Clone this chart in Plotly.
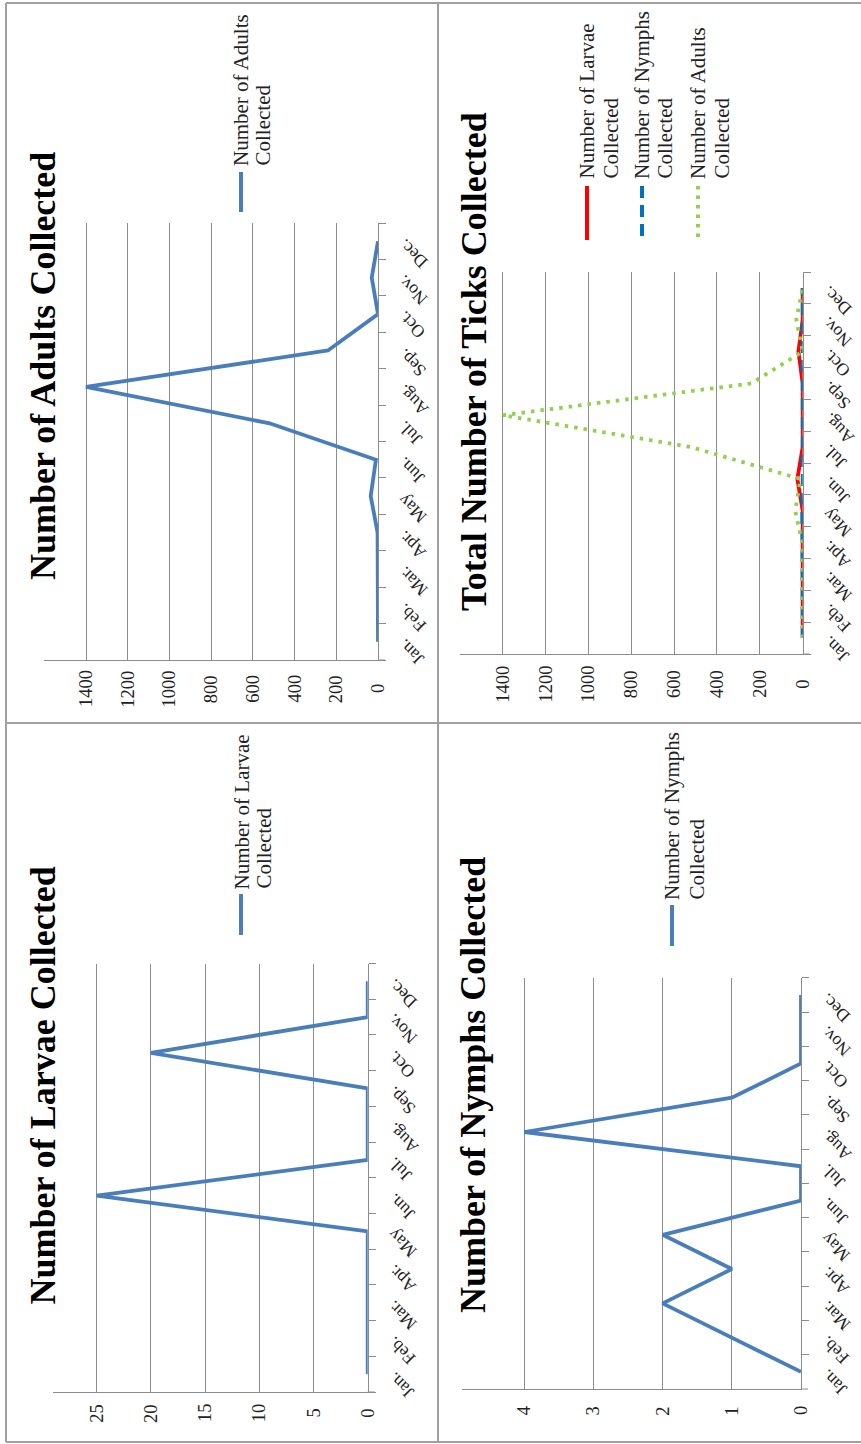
import plotly.graph_objects as go

W, H = 861, 1444

months = ["Jan.", "Feb.", "Mar.", "Apr.", "May", "Jun.", "Jul.", "Aug.", "Sep.", "Oct.", "Nov.", "Dec."]
larvae = [0, 0, 0, 0, 0, 25, 0, 0, 0, 20, 0, 0]
nymphs = [0, 1, 2, 1, 2, 0, 0, 4, 1, 0, 0, 0]
adults = [0, 0, 0, 2, 35, 10, 520, 1400, 240, 0, 30, 0]

adult_ticks = [0, 200, 400, 600, 800, 1000, 1200, 1400]
total_ticks = [0, 200, 400, 600, 800, 1000, 1200, 1400]
larvae_ticks = [0, 5, 10, 15, 20, 25]
nymph_ticks = [0, 1, 2, 3, 4]

FONT = "Liberation Serif"
BLUE = "#4A7EBB"
RED = "#FF0000"
DBLUE = "#0070C0"
GREEN = "#92D050"
GRID = "#8C8C8C"
BORDER = "#A0A0A0"
TXT = "#222222"


def px(x):
    return x / W


def py(y):
    return 1 - y / H


# geometry of each (rotated) panel, in pixels
panels = [
    dict(k="", title="Number of Adults Collected", vmax=1600, ticks=adult_ticks,
         x0=44.3, x1=378, ytop=223, ybot=660, lab_y=689, tx=43, ty=366,
         series=[("Number of Adults", adults, BLUE, "solid")],
         leg=[(241, 262, 168, 172, 212)]),
    dict(k="2", title="Total Number of Ticks Collected", vmax=1600, ticks=total_ticks,
         x0=459.8, x1=802.7, ytop=272, ybot=654, lab_y=684, tx=474, ty=362,
         series=[("Number of Larvae", larvae, RED, "solid"),
                 ("Number of Nymphs", nymphs, DBLUE, "12px,7px"),
                 ("Number of Adults", adults, GREEN, "3.5px,6px")],
         leg=[(587, 611, 181, 186, 240), (642, 665, 181, 186, 240), (698, 722, 181, 186, 240)]),
    dict(k="3", title="Number of Larvae Collected", vmax=29.03, ticks=larvae_ticks,
         x0=53, x1=367.7, ytop=963.5, ybot=1392, lab_y=1413, tx=42.5, ty=1086,
         series=[("Number of Larvae", larvae, BLUE, "solid")],
         leg=[(241, 263, 891, 894, 935)]),
    dict(k="4", title="Number of Nymphs Collected", vmax=4.905, ticks=nymph_ticks,
         x0=461.7, x1=801, ytop=977.8, ybot=1389, lab_y=1411, tx=473, ty=1085,
         series=[("Number of Nymphs", nymphs, BLUE, "solid")],
         leg=[(672, 696, 902, 905, 946)]),
]

fig = go.Figure()
annotations = []
shapes = []
layout_axes = {}

for p in panels:
    k = p["k"]
    xr, yr = "x" + k, "y" + k
    for name, vals, color, dash in p["series"]:
        fig.add_trace(go.Scatter(
            x=vals, y=months, mode="lines", name=name + " Collected",
            line=dict(color=color, width=3.8, dash=dash),
            xaxis=xr, yaxis=yr, showlegend=False, hoverinfo="skip"))

    layout_axes["xaxis" + k] = dict(
        domain=[px(p["x0"]), px(p["x1"])], range=[p["vmax"], 0], anchor=yr,
        showgrid=True, gridcolor=GRID, gridwidth=1, tickvals=p["ticks"],
        showticklabels=False, ticks="", showline=True, linecolor=GRID, linewidth=1,
        zeroline=False, fixedrange=True)
    layout_axes["yaxis" + k] = dict(
        domain=[py(p["ybot"]), py(p["ytop"])], type="category", categoryarray=months,
        categoryorder="array", range=[-0.5, 11.5], anchor=xr, side="right",
        showline=True, linecolor=GRID, linewidth=1, ticks="outside", tickson="boundaries",
        ticklen=7, tickcolor=GRID, showticklabels=False, showgrid=False, zeroline=False,
        fixedrange=True)

    # value axis extends a little past the category axis (to the tick ends)
    shapes.append(dict(type="line", xref="paper", yref="paper",
                       x0=px(p["x1"]), x1=px(p["x1"] + 7), y0=py(p["ybot"]), y1=py(p["ybot"]),
                       line=dict(color=GRID, width=1)))

    # value tick labels (rotated)
    for v in p["ticks"]:
        annotations.append(dict(
            x=v, xref=xr, y=py(p["lab_y"]), yref="paper", text=str(v), textangle=-90,
            showarrow=False, xanchor="center", yanchor="middle",
            font=dict(family=FONT, size=18.5, color=TXT)))
    # month labels (rotated)
    for m in months:
        annotations.append(dict(
            x=px(p["x1"] + 13), xref="paper", y=m, yref=yr, text=m, textangle=-135,
            showarrow=False, xanchor="left", yanchor="top", yshift=9,
            font=dict(family=FONT, size=17.5, color=TXT)))
    # title
    annotations.append(dict(
        x=px(p["tx"]), xref="paper", y=py(p["ty"]), yref="paper",
        text="<b>" + p["title"] + "</b>", textangle=-90, showarrow=False,
        xanchor="center", yanchor="middle", font=dict(family=FONT, size=36, color="#000000")))
    # legend
    for (name, vals, color, dash), (lx, lx2, tb, ly0, ly1) in zip(p["series"], p["leg"]):
        shapes.append(dict(type="line", xref="paper", yref="paper",
                           x0=px(lx), x1=px(lx), y0=py(ly0), y1=py(ly1),
                           line=dict(color=color, width=4, dash=dash)))
        annotations.append(dict(
            x=px(lx), xref="paper", y=py(tb), yref="paper", text=name, textangle=-90,
            showarrow=False, xanchor="center", yanchor="bottom",
            font=dict(family=FONT, size=21, color=TXT)))
        annotations.append(dict(
            x=px(lx2), xref="paper", y=py(tb), yref="paper", text="Collected", textangle=-90,
            showarrow=False, xanchor="center", yanchor="bottom",
            font=dict(family=FONT, size=21, color=TXT)))

# panel frame lines
for x0, y0, x1, y1 in [(6, 3, 861, 3), (6, 3, 6, 1442), (6, 1442, 861, 1442),
                       (438, 3, 438, 1442), (6, 723, 861, 723)]:
    shapes.append(dict(type="line", xref="paper", yref="paper",
                       x0=px(x0), x1=px(x1), y0=py(y0), y1=py(y1),
                       line=dict(color=BORDER, width=2)))

fig.update_layout(
    width=W, height=H, margin=dict(l=0, r=0, t=0, b=0),
    paper_bgcolor="white", plot_bgcolor="white", showlegend=False,
    annotations=annotations, shapes=shapes, **layout_axes)

# remove the browser's default 8px body margin so the figure sits at the page origin
fig.write_html("out.html", config={"displayModeBar": False, "staticPlot": True},
               post_script="document.body.style.margin='0px';document.body.style.overflow='hidden';")
